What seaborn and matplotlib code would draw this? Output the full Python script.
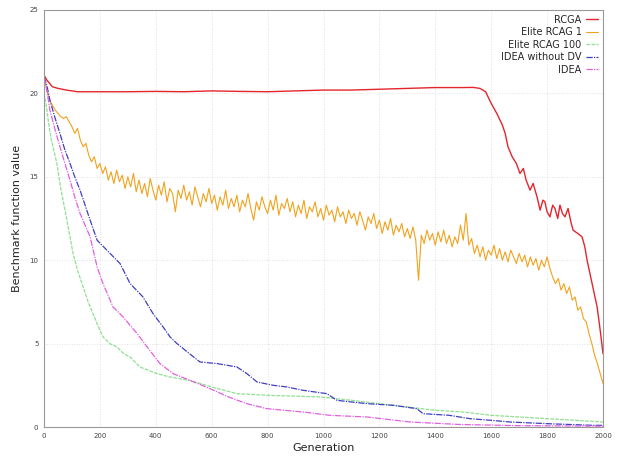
import matplotlib
matplotlib.use("Agg")
import matplotlib.pyplot as plt
import seaborn as sns
import pandas as pd

# ---- data ----
rcga_gen = [0,10,20,30,50,80,120,200,300,400,
            500,600,700,800,900,1000,1100,1200,1300,1400,
            1500,1535,1560,1580,1600,1620,1640,1650,1660,1675,
            1690,1703,1715,1725,1739,1750,1764,1775,1785,1792,
            1800,1810,1820,1828,1838,1846,1855,1864,1875,1885,
            1893,1910,1925,1935,1943,1952,1961,1970,1979,1990,
            2000]
rcga_val = [21.1,20.8,20.6,20.4,20.3,20.2,20.1,20.1,20.1,20.12,
            20.1,20.15,20.12,20.1,20.15,20.2,20.2,20.25,20.3,20.35,
            20.35,20.36,20.3,20.1,19.4,18.8,18.1,17.6,16.8,16.2,
            15.8,15.2,15.5,14.8,14.2,14.6,13.8,13.0,13.6,13.5,
            12.9,12.6,13.3,13.1,12.5,13.3,12.8,12.6,13.1,12.3,
            11.8,11.6,11.4,10.8,10.0,9.3,8.6,7.9,7.2,5.8,
            4.4]

elite1_gen = list(range(0, 2001, 10))
elite1_val = [21.0,20.2,19.6,19.3,19.0,18.8,18.6,18.5,18.6,18.3,
              18.0,17.6,17.9,17.2,16.8,17.0,16.3,15.9,16.2,15.5,
              15.8,15.2,15.6,14.8,15.3,14.6,15.4,14.7,15.1,14.3,
              15.0,14.4,15.2,14.1,14.8,14.0,14.6,13.8,14.9,14.2,
              13.6,14.5,13.9,14.7,13.5,14.3,14.0,12.9,14.2,13.7,
              14.5,13.6,14.1,13.3,14.4,13.8,13.2,14.0,13.5,14.3,
              13.4,13.9,13.0,13.8,13.3,14.2,13.1,13.7,13.2,13.9,
              12.9,13.6,13.2,14.0,13.1,12.4,13.5,13.0,13.8,13.2,
              12.8,13.6,13.0,13.9,12.7,13.4,13.1,13.7,12.9,13.5,
              12.6,13.3,12.8,13.6,12.5,13.2,12.9,13.5,12.6,13.1,
              12.4,13.3,12.7,13.0,12.3,13.2,12.6,12.9,12.2,13.0,
              12.5,12.8,12.1,12.9,12.4,11.8,12.6,12.2,12.8,11.9,
              12.4,11.6,12.3,11.8,12.5,11.5,12.1,11.7,12.2,11.4,
              11.9,11.3,12.0,11.2,8.8,11.5,11.0,11.8,11.2,11.6,
              10.9,11.7,11.1,11.8,11.0,11.5,10.8,11.4,11.0,12.1,
              11.2,12.8,10.9,11.3,10.4,10.9,10.2,10.8,10.0,10.6,
              10.3,10.9,10.1,10.7,10.0,10.5,9.9,10.6,10.2,9.8,
              10.4,9.9,10.3,9.6,10.2,9.7,10.1,9.4,10.0,9.6,
              10.2,9.5,9.0,8.6,8.9,8.2,8.6,8.0,8.4,7.6,
              7.8,7.0,7.2,6.5,6.3,5.6,5.0,4.3,3.8,3.2,
              2.6]

elite100_gen = [0,8,15,25,35,46,60,82,104,120,
                140,158,175,195,211,235,261,285,308,343,
                404,450,520,600,690,800,990,1100,1200,1300,
                1400,1500,1600,1700,1800,1900,2000]
elite100_val = [20.0,19.3,18.4,17.3,16.6,15.8,14.3,12.4,10.4,9.4,
                8.4,7.5,6.8,6.0,5.4,5.0,4.8,4.4,4.2,3.6,
                3.2,3.0,2.8,2.4,2.0,1.9,1.8,1.6,1.4,1.2,
                1.0,0.9,0.7,0.6,0.5,0.4,0.3]

idea_nodv_gen = [0,10,21,40,57,75,93,110,129,147,
                 165,190,225,272,308,354,390,426,451,476,
                 520,558,620,690,726,762,820,869,927,1012,
                 1048,1100,1156,1250,1334,1356,1450,1524,1600,1667,
                 1800,1964,2000]
idea_nodv_val = [21.0,20.5,19.6,18.5,17.6,16.6,15.8,15.0,14.2,13.3,
                 12.4,11.2,10.6,9.8,8.6,7.8,6.8,6.0,5.4,5.0,
                 4.4,3.9,3.8,3.6,3.2,2.7,2.5,2.4,2.2,2.0,
                 1.6,1.5,1.4,1.3,1.1,0.8,0.7,0.5,0.4,0.3,
                 0.2,0.1,0.1]

idea_gen = [0,10,21,40,57,75,93,110,129,147,
            165,190,211,247,283,333,369,415,462,522,
            594,660,726,797,860,927,1023,1156,1310,1488,
            1700,2000]
idea_val = [21.0,20.2,19.0,17.8,16.8,15.8,14.8,13.8,12.8,12.1,
            11.4,9.6,8.6,7.2,6.6,5.6,4.8,3.8,3.2,2.8,
            2.3,1.8,1.4,1.1,1.0,0.9,0.7,0.6,0.3,0.15,
            0.08,0.05]

x_ticks = [0,200,400,600,800,1000,1200,1400,1600,1800,2000]
y_ticks = [0,5,10,15,20,25]

series = [
    ("RCGA", rcga_gen, rcga_val, "#e3262e", "-", 1.0),
    ("Elite RCAG 1", elite1_gen, elite1_val, "#f2a21c", "-", 0.8),
    ("Elite RCAG 100", elite100_gen, elite100_val, "#8fe08f", (0, (3, 1)), 0.9),
    ("IDEA without DV", idea_nodv_gen, idea_nodv_val, "#3f3fc0", (0, (5, 1, 1, 1)), 0.9),
    ("IDEA", idea_gen, idea_val, "#e060e0", (0, (5, 1, 1, 1)), 0.9),
]

sns.set_style("white")
plt.rcParams['font.family'] = ['DejaVu Sans']

fig = plt.figure(figsize=(6.22, 4.63), dpi=100)
ax = fig.add_axes([44/622, 1-427/463, (603-44)/622, (427-10)/463])

for name, g, v, col, ls, lw in series:
    assert len(g) == len(v), name
    df = pd.DataFrame({"Generation": g, "value": v})
    sns.lineplot(data=df, x="Generation", y="value", ax=ax, color=col,
                 linestyle=ls, linewidth=lw, label=name, estimator=None)

ax.set_xlim(0, 2000)
ax.set_ylim(0, 25)
ax.set_xticks(x_ticks)
ax.set_yticks(y_ticks)
ax.tick_params(axis='both', labelsize=5, direction='in', length=3,
               width=0.6, color='#888888', labelcolor='#444444', pad=4)
ax.grid(True, color='#d8d8d8', linestyle=(0, (1, 2)), linewidth=0.6)
for s in ax.spines.values():
    s.set_color('#999999')
    s.set_linewidth(0.8)
ax.set_xlabel("Generation", fontsize=8, color='#222222', labelpad=3)
ax.set_ylabel("Benchmark function value", fontsize=8, color='#222222', labelpad=5)

leg = ax.legend(loc='upper right', frameon=False, markerfirst=False,
                fontsize=7, handlelength=1.3, handletextpad=0.4,
                labelspacing=0.25, borderaxespad=0.1)
try:
    vp = leg._legend_box._children[-1]._children[0]
    vp.align = "right"
except Exception:
    pass

fig.savefig("out.png", dpi=100)
